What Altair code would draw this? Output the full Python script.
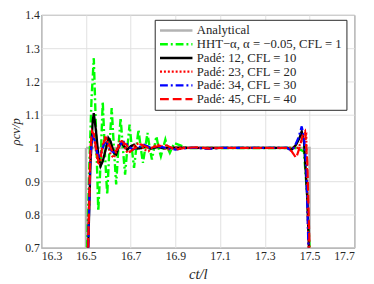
import altair as alt
import pandas as pd

names = ["Analytical", "HHT\u2212\u03b1, \u03b1 = \u22120.05, CFL = 1", "Pad\u00e9: 12, CFL = 10",
         "Pad\u00e9: 23, CFL = 20", "Pad\u00e9: 34, CFL = 30", "Pad\u00e9: 45, CFL = 40"]
colors = ["#b3b3b3", "#00ff00", "#000000", "#ff0000", "#0000ff", "#ff0000"]
dashes = [[1, 0], [8, 3, 2, 3], [1, 0], [2, 2], [8, 3, 2, 3], [9, 4]]
widths = [2.5, 2.2, 2.0, 2.0, 2.0, 2.0]

x_an = [16.5, 16.5, 17.5, 17.5]
y_an = [0.7, 1.0, 1.0, 0.7]

x_hht = [16.505, 16.515, 16.525, 16.535, 16.545, 16.555, 16.565, 16.575, 16.585, 16.595,
         16.605, 16.615, 16.625, 16.635, 16.645, 16.655, 16.665, 16.675, 16.685, 16.695,
         16.705, 16.715, 16.725, 16.735, 16.745, 16.755, 16.765, 16.775, 16.785, 16.795,
         16.805, 16.815, 16.825, 16.835, 16.845, 16.855, 16.865, 16.875, 16.885, 16.895,
         16.95, 17.0, 17.1, 17.2, 17.3, 17.4, 17.44, 17.46, 17.475, 17.49, 17.5]
y_hht = [0.70, 0.95, 1.15, 1.27, 1.05, 0.81, 0.95, 1.14, 0.98, 0.86,
         1.00, 1.12, 1.00, 0.89, 1.00, 1.09, 1.00, 0.92, 1.00, 1.07,
         1.00, 0.94, 1.00, 1.055, 1.00, 0.955, 1.00, 1.045, 1.00, 0.965,
         1.00, 1.035, 1.00, 0.975, 1.00, 1.025, 1.00, 0.985, 1.00, 1.015,
         1.0, 1.0, 1.0, 1.0, 1.0, 1.0, 1.0, 0.994, 0.99, 0.85, 0.70]

x_p12 = [16.51, 16.52, 16.53, 16.535, 16.545, 16.555, 16.565, 16.575, 16.59, 16.60,
         16.61, 16.625, 16.635, 16.65, 16.66, 16.67, 16.685, 16.70, 16.715, 16.73,
         16.75, 16.77, 16.79, 16.82, 16.85, 16.9, 17.0, 17.4, 17.42, 17.44,
         17.455, 17.465, 17.475, 17.49, 17.497]
y_p12 = [0.70, 0.95, 1.08, 1.105, 1.05, 0.98, 0.945, 0.96, 1.00, 1.03,
         1.02, 0.985, 0.98, 1.01, 1.015, 1.005, 0.995, 1.005, 1.01, 0.998,
         1.0, 1.006, 0.998, 1.003, 0.999, 1.001, 1.0, 1.0, 0.995, 1.01,
         1.03, 1.05, 1.02, 0.85, 0.70]

x_p23 = [16.508, 16.518, 16.525, 16.535, 16.545, 16.555, 16.565, 16.575, 16.585, 16.595,
         16.61, 16.625, 16.64, 16.655, 16.67, 16.685, 16.70, 16.72, 16.74, 16.76,
         16.78, 16.80, 16.83, 16.86, 16.9, 17.0, 17.2, 17.4, 17.45, 17.47,
         17.485, 17.495]
y_p23 = [0.70, 0.95, 1.035, 1.04, 0.99, 0.95, 0.96, 1.01, 1.03, 1.02,
         0.98, 0.97, 1.0, 1.025, 1.01, 0.985, 0.99, 1.01, 1.015, 0.995,
         0.99, 1.005, 1.01, 0.995, 1.0, 1.0, 1.0, 1.0, 1.0, 1.03,
         1.04, 0.70]

x_p34 = [16.51, 16.52, 16.53, 16.54, 16.55, 16.56, 16.57, 16.58, 16.59, 16.60,
         16.615, 16.63, 16.645, 16.66, 16.675, 16.69, 16.71, 16.73, 16.76, 16.79,
         16.82, 16.86, 16.9, 16.95, 17.0, 17.05, 17.1, 17.4, 17.41, 17.43,
         17.45, 17.465, 17.475, 17.485, 17.495]
y_p34 = [0.70, 0.98, 1.035, 1.02, 0.985, 0.975, 0.99, 1.01, 1.02, 1.01,
         0.99, 0.985, 1.0, 1.015, 1.02, 1.005, 0.995, 1.0, 1.01, 1.0,
         1.005, 1.0, 0.995, 1.0, 1.0, 0.997, 1.0, 1.0, 0.995, 1.0,
         1.03, 1.065, 1.03, 0.95, 0.70]

x_p45 = [16.51, 16.52, 16.527, 16.535, 16.545, 16.555, 16.565, 16.575, 16.59, 16.605,
         16.62, 16.64, 16.66, 16.68, 16.70, 16.72, 16.75, 16.78, 16.82, 16.86,
         16.9, 16.94, 17.0, 17.05, 17.1, 17.2, 17.3, 17.40, 17.42, 17.44,
         17.455, 17.47, 17.48, 17.49, 17.50]
y_p45 = [0.70, 1.00, 1.05, 1.04, 1.00, 0.96, 0.97, 1.01, 1.03, 1.01,
         0.985, 0.995, 1.02, 1.01, 0.99, 1.0, 1.01, 1.0, 1.005, 1.008,
         0.995, 1.0, 1.002, 0.998, 1.0, 1.0, 1.0, 1.0, 0.99, 0.97,
         1.0, 1.04, 1.05, 0.96, 0.70]

xs = [x_an, x_hht, x_p12, x_p23, x_p34, x_p45]
ys = [y_an, y_hht, y_p12, y_p23, y_p34, y_p45]

rows = []
for n, xx, yy in zip(names, xs, ys):
    for i, (a, b) in enumerate(zip(xx, yy)):
        rows.append({"series": n, "x": a, "y": b, "i": i})
df = pd.DataFrame(rows)

x_ticks = [16.3, 16.5, 16.7, 16.9, 17.1, 17.3, 17.5, 17.7]
y_ticks = [0.7, 0.8, 0.9, 1.0, 1.1, 1.2, 1.3, 1.4]

FONT = "Liberation Serif"
TXT = "#262626"

base = alt.Chart(df).encode(
    x=alt.X("x:Q", scale=alt.Scale(domain=[16.3, 17.7], nice=False),
            axis=alt.Axis(values=x_ticks, format=".1f", title="ct/l", ticks=False,
                          domain=False, titleFontStyle="italic", titleFontWeight="normal",
                          titleFontSize=15, labelFontSize=12, labelPadding=3, titlePadding=5,
                          labelFont=FONT, titleFont=FONT, labelColor=TXT, titleColor=TXT)),
    y=alt.Y("y:Q", scale=alt.Scale(domain=[0.7, 1.4], nice=False),
            axis=alt.Axis(values=y_ticks, format="~g", title="\u03c1cv/p", ticks=False,
                          domain=False, titleFontStyle="italic", titleFontWeight="normal",
                          titleFontSize=13, labelFontSize=12, labelPadding=2, titlePadding=2,
                          labelFont=FONT, titleFont=FONT, labelColor=TXT, titleColor=TXT)),
    color=alt.Color("series:N", scale=alt.Scale(domain=names, range=colors), sort=names,
                    legend=alt.Legend(title=None, orient="none", legendX=116, legendY=5,
                                      fillColor="white", strokeColor=TXT, padding=4,
                                      labelFont=FONT, labelFontSize=13, labelColor=TXT,
                                      symbolType="stroke", symbolSize=1100, symbolStrokeWidth=2.5,
                                      clipHeight=14, rowPadding=0, labelOffset=3)),
    strokeDash=alt.StrokeDash("series:N", scale=alt.Scale(domain=names, range=dashes), sort=names),
    strokeWidth=alt.StrokeWidth("series:N", scale=alt.Scale(domain=names, range=widths),
                                sort=names, legend=None),
    order="i:Q",
)

layers = [base.transform_filter(alt.datum.series == n).mark_line(clip=True) for n in names]

chart = alt.layer(*layers).properties(
    width=320, height=238,
    autosize=alt.AutoSizeParams(type="none"),
    padding={"left": 34, "top": 4, "right": 12, "bottom": 34},
).configure_view(stroke=TXT, strokeWidth=1).configure_axis(
    gridColor="#e0e0e0", gridWidth=1)

chart.save("out.html", embed_options={"renderer": "svg", "actions": False})
